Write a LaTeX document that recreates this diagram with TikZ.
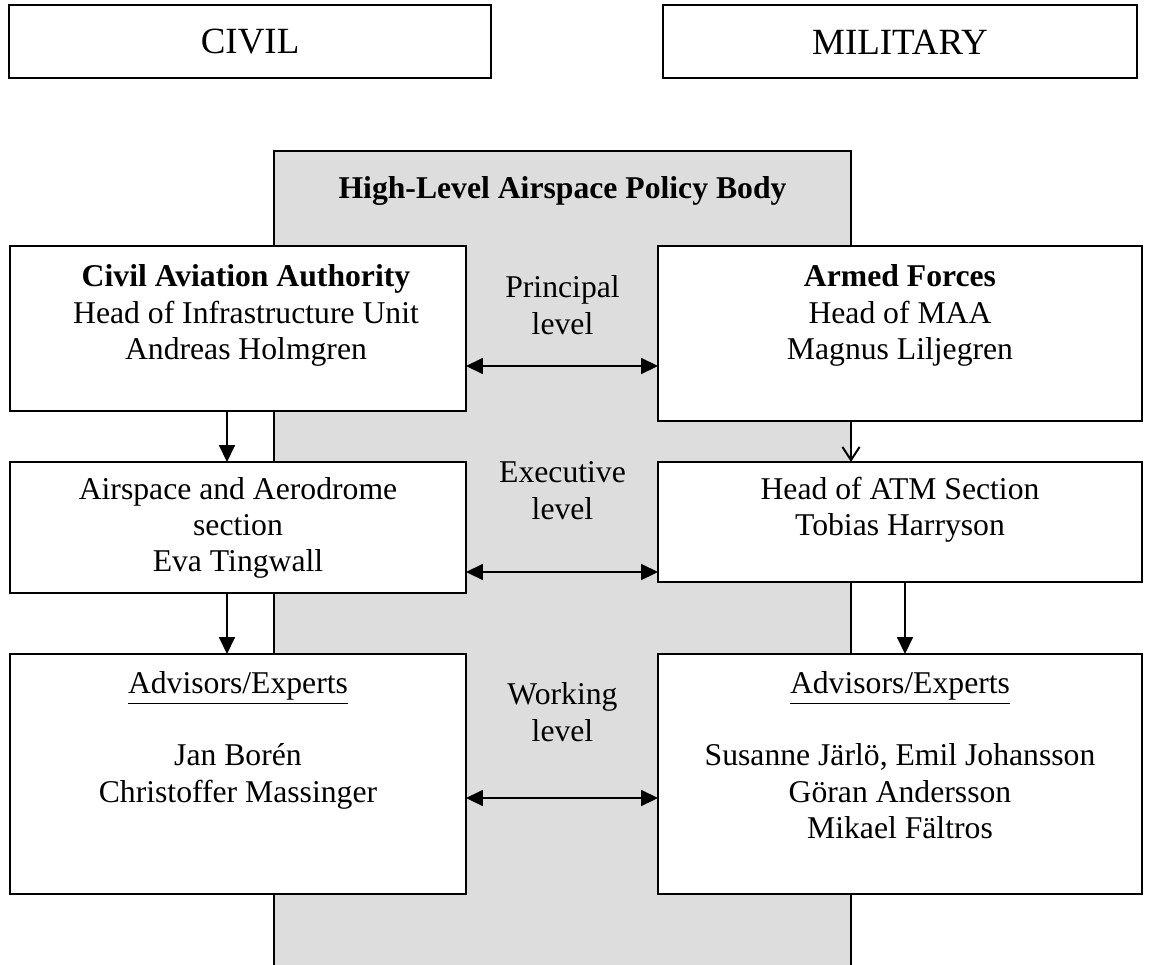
\documentclass[tikz,border=0pt]{standalone}
\usepackage{fontspec}
\setmainfont{Liberation Serif}
\usetikzlibrary{arrows.meta}
\definecolor{bandgray}{RGB}{221,221,221}

\begin{document}
\begin{tikzpicture}[x=0.3788pt,y=-0.3788pt,inner sep=0pt,outer sep=0pt,line width=0.75pt,
font=\fontsize{12}{13.8}\selectfont,
>={Triangle[length=6.4pt,width=6pt]},
sideblock/.style={draw,rectangle,minimum height=27.65pt,font=\fontsize{14}{16}\selectfont},
orgblock/.style={draw,rectangle,fill=white},
boxtext/.style={anchor=north,align=center}]
\useasboundingbox (0,0) rectangle (1151,964);
% civil / military headers
\draw (250.1,41.8) node[sideblock,minimum width=182.3pt] (civ) {CIVIL};
\draw (900,41.8) node[sideblock,minimum width=179.6pt] (mil) {MILITARY};
% policy body band
\draw[fill=bandgray] (274,151) rectangle (851,990);
\draw (562.5,198) node[anchor=base,font=\fontsize{12}{13.8}\selectfont\bfseries] (hl) {High-Level Airspace Policy Body};
% civil side
\draw (238,328.5) node[orgblock,minimum width=172.7pt,minimum height=62.5pt] (caa) {};
\draw (caa.north) ++(8,19) node[boxtext] (caat) {\textbf{Civil Aviation Authority}\\Head of Infrastructure Unit\\Andreas Holmgren};
\draw (238,527.5) node[orgblock,minimum width=172.7pt,minimum height=49.6pt] (air) {};
\draw (air.north) ++(0,15) node[boxtext] (airt) {Airspace and Aerodrome\\section\\Eva Tingwall};
\draw (238,774) node[orgblock,minimum width=172.7pt,minimum height=90.9pt] (advl) {};
\draw (advl.north) ++(0,17) node[boxtext] (advlt) {\underline{Advisors/Experts}\\[13.8pt]Jan Borén\\Christoffer Massinger};
% military side
\draw (900,333.5) node[orgblock,minimum width=183.3pt,minimum height=66.3pt] (arm) {};
\draw (arm.north) ++(0,19) node[boxtext] (armt) {\textbf{Armed Forces}\\Head of MAA\\Magnus Liljegren};
\draw (900,522) node[orgblock,minimum width=183.3pt,minimum height=45.5pt] (atm) {};
\draw (atm.north) ++(0,15) node[boxtext] (atmt) {Head of ATM Section\\Tobias Harryson};
\draw (900,774) node[orgblock,minimum width=183.3pt,minimum height=90.9pt] (advr) {};
\draw (advr.north) ++(0,17) node[boxtext] (advrt) {\underline{Advisors/Experts}\\[13.8pt]Susanne Järlö, Emil Johansson\\Göran Andersson\\Mikael Fältros};
% levels
\draw (562.5,276) node[boxtext] (pri) {Principal\\level};
\draw (562.5,462) node[boxtext] (exe) {Executive\\level};
\draw (562.5,683) node[boxtext] (wrk) {Working\\level};
\coordinate (lcol) at (227,0);
\coordinate (rcola) at (851,0);
\coordinate (rcolb) at (905,0);
\coordinate (plev) at (0,366);
\coordinate (elev) at (0,572);
\coordinate (wlev) at (0,798);
\draw[<->] (caa.east |- plev) -- (arm.west |- plev);
\draw[<->] (air.east |- elev) -- (atm.west |- elev);
\draw[<->] (advl.east |- wlev) -- (advr.west |- wlev);
\draw[->] (lcol |- caa.south) -- (lcol |- air.north);
\draw[->] (lcol |- air.south) -- (lcol |- advl.north);
\draw[-{Straight Barb[length=5pt,width=6.5pt]}] (rcola |- arm.south) -- (rcola |- atm.north);
\draw[->] (rcolb |- atm.south) -- (rcolb |- advr.north);

\end{tikzpicture}
\end{document}
